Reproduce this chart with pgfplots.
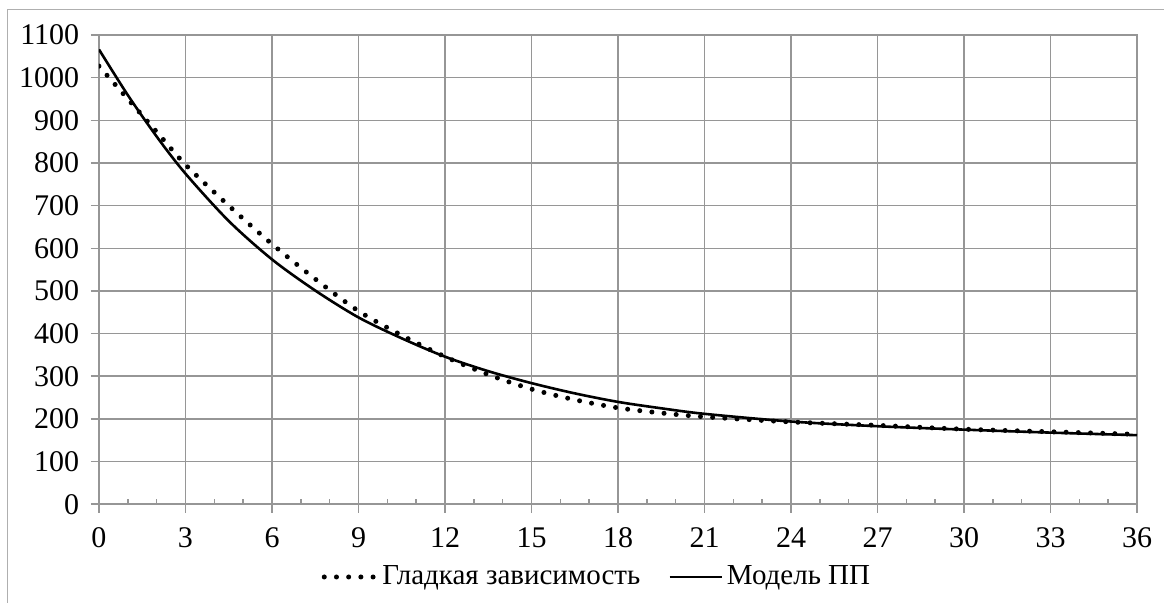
\documentclass[border=0pt]{standalone}
\usepackage{fontspec}
\setmainfont{Liberation Serif}
\usepackage{pgfplots}
\pgfplotsset{compat=1.18}
\definecolor{gridc}{RGB}{150,150,150}
\definecolor{framec}{RGB}{175,175,175}
\begin{document}
\begin{tikzpicture}
\path[use as bounding box] (0,0) rectangle (582pt,301.5pt);
\draw[framec, line width=0.6pt] (3.65pt,-2pt) -- (3.65pt,296.85pt) -- (584pt,296.85pt);
\begin{axis}[
  at={(49.5pt,49.35pt)}, anchor=south west,
  scale only axis, width=519pt, height=234.65pt,
  xmin=0, xmax=36, ymin=0, ymax=1100,
  xtick={0,3,...,36}, ytick={0,100,...,1100},
  minor x tick num=2,
  tick pos=left,
  grid=major, grid style={gridc, line width=0.8pt},
  axis line style={gridc, line width=0.8pt},
  tick style={gridc, line width=0.8pt},
  tick align=outside,
  major tick length=7.35pt, minor tick length=2.85pt,
  major x tick style={yshift=3pt},
  minor x tick style={yshift=2.85pt},
  major y tick style={xshift=3.35pt},
  tick label style={font=\fontsize{15}{17}\selectfont, text height=10.5pt, text depth=0.5pt},
  yticklabel style={xshift=1pt},
  /pgf/number format/assume math mode=true,
  /pgf/number format/1000 sep={},
  legend columns=2,
  legend style={at={(0.2122,-0.1549)}, anchor=west, draw=none, fill=none,
    inner sep=0pt, outer sep=0pt,
    nodes={inner sep=0pt, font=\fontsize{14.5}{16}\selectfont},
    /tikz/every odd column/.append style={column sep=2pt},
    /tikz/every even column/.append style={column sep=14pt}},
]
\addplot[black, line width=2.5pt, line cap=round, dash pattern=on 0pt off 6.1pt, smooth,
  legend image code/.code={\path (0pt,0pt) (27pt,0pt);
    \draw[black, line width=2.5pt, line cap=round, dash pattern=on 0pt off 6.1pt] (1.25pt,0pt) -- (25.75pt,0pt);}]
coordinates {(0,1027)(1,950)(2,873)(3,796)(4.5,700)(6,610)(7.5,528)(9,453)(10.5,396)(12,346)(13.5,304)(15,270)(16.5,245)(18,226)(19.5,214)(21,205)(24,193)(27,185)(30,176)(33,170)(36,164)};
\addplot[black, line width=1.3pt, smooth,
  legend image code/.code={\draw[black, line width=1.3pt] (0pt,0pt) -- (26pt,0pt);}]
coordinates {(0,1066)(1,959)(2,862)(3,775)(4.5,664)(6,574)(7.5,501)(9,438)(10.5,389)(12,346)(13.5,312)(15,284)(16.5,260)(18,240)(19.5,225)(21,212)(24,194)(27,183)(30,175)(33,168)(36,162)};
\legend{Гладкая зависимость, Модель ПП}
\end{axis}
\end{tikzpicture}
\end{document}
